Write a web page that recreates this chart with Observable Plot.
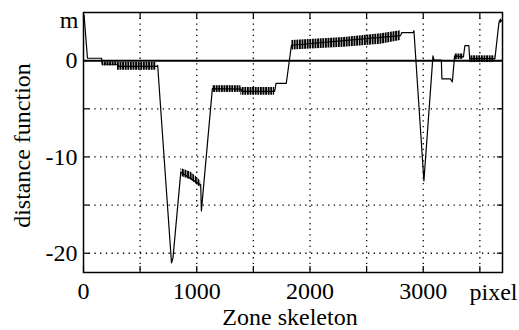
<!DOCTYPE html>
<html><head><meta charset="utf-8">
<script src="https://cdn.jsdelivr.net/npm/d3@7"></script>
<script src="https://cdn.jsdelivr.net/npm/@observablehq/plot@0.6"></script>
<style>html,body{margin:0;padding:0;background:#fff;}</style>
</head><body><div id="chart"></div>
<script>
// centre line of the distance function (pixel along zone skeleton, value)
const lineX = [5, 35, 160, 165, 300, 310, 645, 655, 777, 790, 859, 1035, 1041, 1138, 1390, 1400, 1688, 1700, 1791, 1836, 2800, 2810, 2910, 2918, 3006, 3086, 3095, 3160, 3165, 3240, 3257, 3277, 3355, 3368, 3403, 3410, 3633, 3668, 3695];
const lineY = [4.7, 0.25, 0.25, -0.35, -0.4, -0.6, -0.6, -0.5, -21.0, -20.5, -11.6, -12.9, -15.6, -2.9, -2.95, -3.2, -3.2, -2.35, -2.35, 1.6, 2.6, 2.9, 2.9, 3.1, -12.5, 0.5, 0.05, 0.05, -1.9, -1.9, -2.2, 0.5, 0.4, 1.55, 1.55, 0.2, 0.2, 3.9, 4.2];

// noisy bands (envelope of the oscillation)
const bandSeg = [1, 1, 2, 2, 3, 3, 3, 4, 4, 5, 5, 6, 6, 6, 6, 7, 7, 8, 8, 9, 9];
const bandX   = [165, 300, 300, 645, 862, 950, 1035, 1140, 1390, 1390, 1688, 1840, 2300, 2626, 2800, 3280, 3355, 3410, 3633, 3668, 3695];
const bandLo  = [-0.55, -0.55, -1.0, -1.0, -12.0, -12.4, -13.2, -3.3, -3.3, -3.6, -3.6, 1.1, 1.4, 1.7, 2.1, 0.1, 0.15, -0.2, -0.2, 3.8, 4.0];
const bandHi  = [-0.15, -0.15, -0.2, -0.2, -11.2, -11.6, -12.5, -2.6, -2.6, -2.8, -2.8, 2.1, 2.4, 2.8, 3.1, 0.7, 0.7, 0.5, 0.5, 4.1, 4.4];

const xTicks = [0, 500, 1000, 1500, 2000, 2500, 3000, 3500];
const xLabels = [0, 1000, 2000, 3000];
const yTicks = [-20, -15, -10, -5, 0];
const yLabels = [-20, -10, 0];
const yGrid = [-20, -15, -10, -5];

const line = lineX.map((x, i) => ({x, y: lineY[i]}));
const band = bandX.map((x, i) => ({x, lo: bandLo[i], hi: bandHi[i], seg: bandSeg[i]}));

const font = "'Liberation Serif', 'Times New Roman', serif";
const tickOpts = {tickFormat: () => "", label: null, tickSize: 6, strokeWidth: 1.2};

const chart = Plot.plot({
  width: 519, height: 330,
  marginLeft: 83, marginRight: 17, marginTop: 12, marginBottom: 58,
  style: {fontFamily: font, fontSize: "24px", background: "#fff", color: "#000"},
  x: {domain: [0, 3700]},
  y: {domain: [-22, 5]},
  marks: [
    Plot.gridX(xTicks.slice(1), {stroke: "#000", strokeOpacity: 1, strokeWidth: 1.3, strokeDasharray: "1.3,4.4"}),
    Plot.gridY(yGrid, {stroke: "#000", strokeOpacity: 1, strokeWidth: 1.3, strokeDasharray: "1.3,4.4"}),
    Plot.ruleY([0], {stroke: "#000", strokeWidth: 2}),
    Plot.areaY(band, {x: "x", y1: "lo", y2: "hi", z: "seg", fill: "url(#noise-hatch)", curve: "linear"}),
    Plot.line(line, {x: "x", y: "y", stroke: "#000", strokeWidth: 1.2}),
    Plot.axisX(xTicks, {...tickOpts, anchor: "bottom", dy: -6}),
    Plot.axisX(xTicks, {...tickOpts, anchor: "top", dy: 6}),
    Plot.axisY(yTicks, {...tickOpts, anchor: "left", dx: 6}),
    Plot.axisY(yTicks, {...tickOpts, anchor: "right", dx: -6}),
    Plot.axisX(xLabels, {anchor: "bottom", tickSize: 0, tickPadding: 9, label: null, fontSize: 24, tickFormat: d => String(d)}),
    Plot.axisY(yLabels, {anchor: "left", tickSize: 0, tickPadding: 6, label: null, fontSize: 24, tickFormat: d => String(d)}),
    Plot.frame({stroke: "#000", strokeWidth: 1.5}),
    Plot.text(["m"], {frameAnchor: "top-left", textAnchor: "end", dx: -5, dy: -2, fontSize: 24}),
    Plot.text(["pixel"], {frameAnchor: "bottom-right", textAnchor: "end", dx: 15, dy: 27, fontSize: 24}),
    Plot.text(["Zone skeleton"], {frameAnchor: "bottom", textAnchor: "middle", dx: -3, dy: 52, fontSize: 24}),
    Plot.text(["distance function"], {frameAnchor: "left", textAnchor: "middle", rotate: -90, dx: -61, dy: 3, fontSize: 24})
  ]
});
// vertical striping pattern for the oscillating (noisy) parts of the signal
const ns = "http://www.w3.org/2000/svg";
const defs = document.createElementNS(ns, "defs");
const pat = document.createElementNS(ns, "pattern");
pat.setAttribute("id", "noise-hatch");
pat.setAttribute("patternUnits", "userSpaceOnUse");
pat.setAttribute("width", "2.6");
pat.setAttribute("height", "6");
const r = document.createElementNS(ns, "rect");
r.setAttribute("width", "1.9");
r.setAttribute("height", "6");
r.setAttribute("fill", "#000");
pat.appendChild(r);
defs.appendChild(pat);
chart.insertBefore(defs, chart.firstChild);
document.getElementById("chart").appendChild(chart);
</script>
</body></html>
